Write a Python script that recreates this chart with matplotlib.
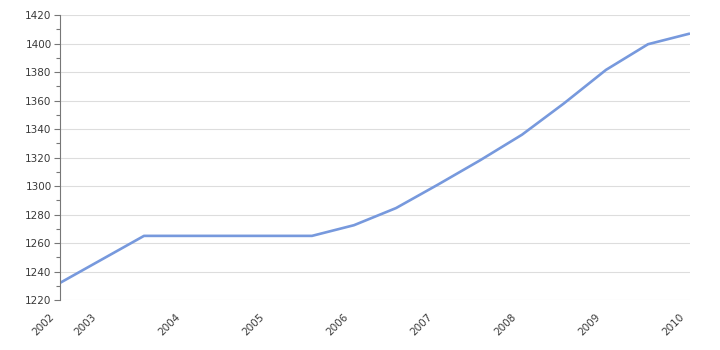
import matplotlib.pyplot as plt
import matplotlib.transforms as mtransforms
from matplotlib.ticker import MultipleLocator

# half-year points, mid 2002 to 2010
years = [2002.5, 2003.0, 2003.5, 2004.0, 2004.5, 2005.0, 2005.5, 2006.0,
         2006.5, 2007.0, 2007.5, 2008.0, 2008.5, 2009.0, 2009.5, 2010.0]
values = [1232, 1248.5, 1265, 1265, 1265, 1265, 1265, 1272.5,
          1284.5, 1301, 1318, 1336, 1358, 1381.5, 1399.5, 1407]

tick_pos = [2002.5, 2003, 2004, 2005, 2006, 2007, 2008, 2009, 2010]
tick_labels = ['2002', '2003', '2004', '2005', '2006', '2007', '2008', '2009', '2010']

fig = plt.figure(figsize=(7.2, 3.5), dpi=100)
ax = fig.add_axes([60 / 720, 50 / 350, 630 / 720, 285 / 350])

ax.plot(years, values, color='#7799dd', linewidth=1.9, solid_capstyle='butt')

ax.set_xlim(2002.5, 2010)
ax.set_ylim(1220, 1420)

ax.yaxis.set_major_locator(MultipleLocator(20))
ax.yaxis.set_minor_locator(MultipleLocator(10))
ax.grid(axis='y', which='major', color='#dddddd', linewidth=0.8)
ax.set_axisbelow(True)

for s in ['top', 'right', 'bottom']:
    ax.spines[s].set_visible(False)
ax.spines['left'].set_color('#777777')
ax.spines['left'].set_linewidth(0.8)

ax.tick_params(axis='y', which='major', length=4, width=0.8, color='#777777',
               labelsize=7.5, labelcolor='#3a3a3a', pad=2)
ax.tick_params(axis='y', which='minor', length=3, width=0.8, color='#777777')

ax.set_xticks(tick_pos)
ax.set_xticklabels(tick_labels, rotation=45, ha='right', rotation_mode='anchor')
ax.tick_params(axis='x', length=0, labelsize=7.5, labelcolor='#3a3a3a', pad=5)

# nudge the rotated year labels left and down
shift = mtransforms.ScaledTranslation(-0.11, -0.05, fig.dpi_scale_trans)
for lbl in ax.get_xticklabels():
    lbl.set_transform(lbl.get_transform() + shift)

fig.savefig('out.png', dpi=100)
